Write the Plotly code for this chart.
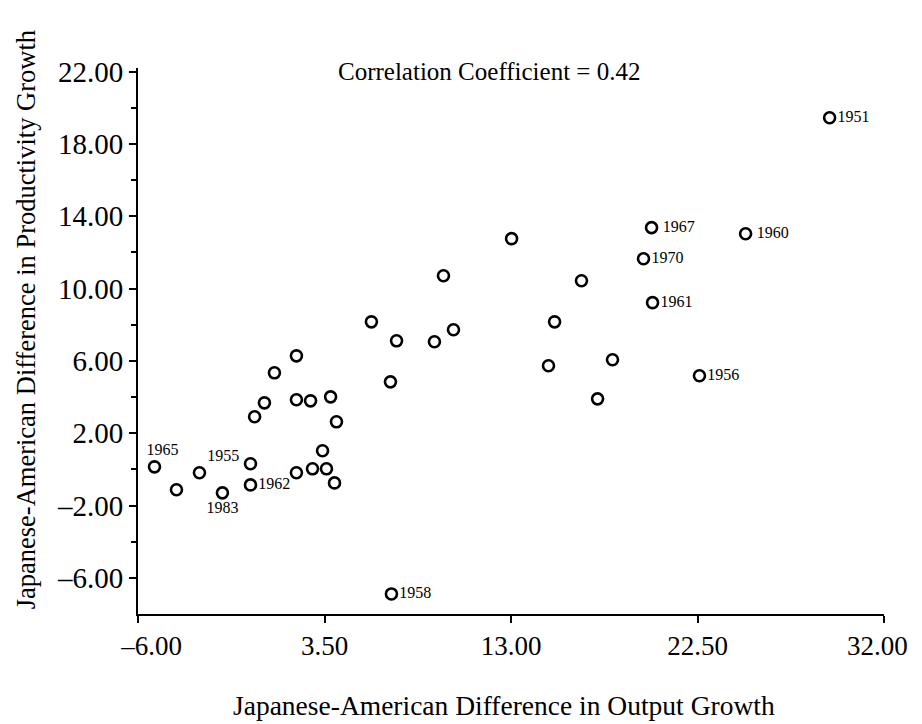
import plotly.graph_objects as go

# Japanese-American difference in output growth (x) and productivity growth (y)
output_diff = [-5.16, -4.04, -2.87, -1.70, -0.27, -0.27, -0.06, 0.44, 0.95, 2.07,
               2.07, 2.07, 2.79, 2.89, 3.60, 3.40, 3.81, 4.01, 4.11, 5.89,
               6.86, 7.17, 6.91, 9.10, 9.56, 10.07, 13.03, 16.59, 15.22, 14.91,
               18.17, 17.41, 20.16, 19.75, 20.21, 22.60, 24.95, 29.23]
productivity_diff = [0.14, -1.13, -0.19, -1.30, 0.31, -0.86, 2.91, 3.68, 5.34, 3.85,
                     6.28, -0.19, 3.79, 0.03, 0.03, 1.03, 4.01, -0.75, 2.63, 8.16,
                     4.84, 7.11, -6.89, 7.06, 10.71, 7.72, 12.76, 10.43, 8.16, 5.73,
                     6.06, 3.90, 13.37, 11.65, 9.22, 5.18, 13.03, 19.45]
year_labels = ["\u2002\u20021965", "", "1955", "1983", "", "1962", "", "", "", "",
               "", "", "", "", "", "", "", "", "", "",
               "", "", "1958", "", "", "", "", "", "", "",
               "", "", "\u20091967", "1970", "1961", "1956", "\u20091960", "1951"]
label_pos = ["top center", "middle right", "top right", "bottom center", "middle right", "middle right",
             "middle right", "middle right", "middle right", "middle right",
             "middle right", "middle right", "middle right", "middle right", "middle right",
             "middle right", "middle right", "middle right", "middle right", "middle right",
             "middle right", "middle right", "middle right", "middle right", "middle right",
             "middle right", "middle right", "middle right", "middle right", "middle right",
             "middle right", "middle right", "middle right", "middle right", "middle right",
             "middle right", "middle right", "middle right"]

x_ticks = [-6.0, 3.5, 13.0, 22.5, 32.0]
x_ticktext = ["\u2002\u2002\u20136.00", "3.50", "13.00", "22.50", "32.00\u2002"]
y_ticks = [-6.0, -2.0, 2.0, 6.0, 10.0, 14.0, 18.0, 22.0]
y_ticktext = ["\u20136.00", "\u20132.00", "2.00", "6.00", "10.00", "14.00", "18.00", "22.00"]
y_minor_ticks = [-4.0, 0.0, 4.0, 8.0, 12.0, 16.0, 20.0]
corr_text = "Correlation Coefficient = 0.42"
x_title = "Japanese-American Difference in Output Growth"
y_title = "Japanese-American Difference in Productivity Growth"

FONT = "Liberation Serif"

fig = go.Figure()
fig.add_trace(go.Scatter(
    x=output_diff, y=productivity_diff,
    mode="markers+text",
    text=year_labels,
    textposition=label_pos,
    textfont=dict(family=FONT, size=16, color="black"),
    marker=dict(symbol="circle-open", size=11, color="black", line=dict(width=2.6, color="black")),
    showlegend=False,
    cliponaxis=False,
))

fig.update_layout(
    width=914, height=716,
    paper_bgcolor="white", plot_bgcolor="white",
    margin=dict(l=130, r=38, t=60, b=110),
    font=dict(family=FONT, color="black"),
    xaxis=dict(
        range=[-6, 32], tickvals=x_ticks, ticktext=x_ticktext,
        automargin=False,
        showgrid=False, zeroline=False,
        showline=True, linecolor="black", linewidth=2,
        ticks="outside", ticklen=7, tickwidth=2, tickcolor="black",
        tickfont=dict(family=FONT, size=27, color="black"),
    ),
    yaxis=dict(
        range=[-8, 22.2], tickvals=y_ticks, ticktext=y_ticktext,
        automargin=False,
        showgrid=False, zeroline=False,
        showline=True, linecolor="black", linewidth=2,
        ticks="outside", ticklen=7, tickwidth=2, tickcolor="black",
        tickfont=dict(family=FONT, size=29, color="black"),
        minor=dict(tickvals=y_minor_ticks, ticks="outside", ticklen=5,
                   tickwidth=2, tickcolor="black", showgrid=False),
    ),
    annotations=[
        dict(text=corr_text, xref="paper", yref="paper", x=0.47, y=0.993,
             xanchor="center", yanchor="middle", showarrow=False,
             font=dict(family=FONT, size=25, color="black")),
        dict(text=x_title, xref="paper", yref="paper", x=0.49, y=-0.168,
             xanchor="center", yanchor="middle", showarrow=False,
             font=dict(family=FONT, size=27.5, color="black")),
        dict(text=y_title, xref="paper", yref="paper", x=-0.150, y=0.538,
             xanchor="center", yanchor="middle", textangle=-90, showarrow=False,
             font=dict(family=FONT, size=26.5, color="black")),
    ],
)

fig.write_html("out.html")
